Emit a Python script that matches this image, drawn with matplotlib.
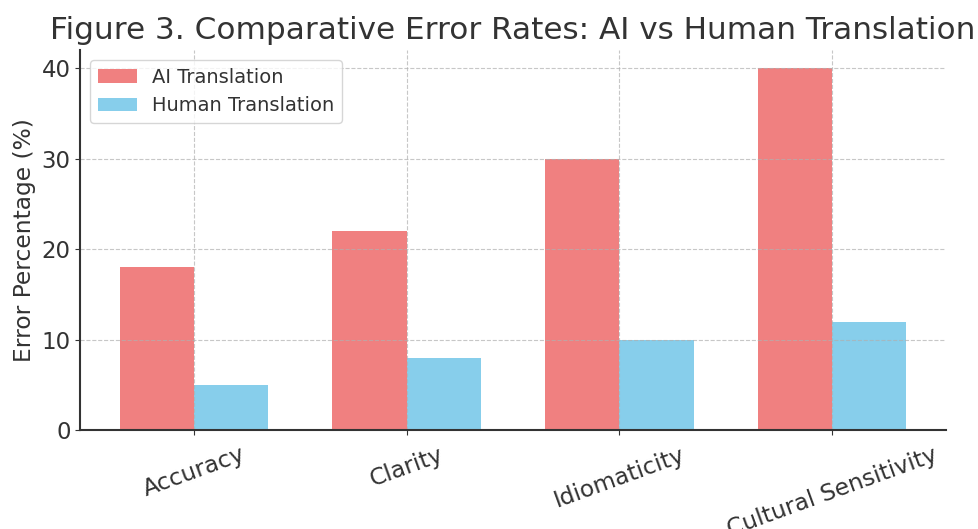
import numpy as np
import matplotlib
matplotlib.use('Agg')
import matplotlib.pyplot as plt

categories = ['Accuracy', 'Clarity', 'Idiomaticity', 'Cultural Sensitivity']
ai_errors = [18, 22, 30, 40]
human_errors = [5, 8, 10, 12]

plt.rcParams['text.color'] = '#333333'
plt.rcParams['axes.labelcolor'] = '#333333'
plt.rcParams['xtick.color'] = '#333333'
plt.rcParams['ytick.color'] = '#333333'

x = np.arange(len(categories))
width = 0.35

fig = plt.figure(figsize=(9.79, 5.29), dpi=100)
ax = fig.add_axes([0.082, 0.187, 0.884, 0.718])

ax.bar(x - width / 2, ai_errors, width, label='AI Translation', color='lightcoral')
ax.bar(x + width / 2, human_errors, width, label='Human Translation', color='skyblue')

ax.set_title('Figure 3. Comparative Error Rates: AI vs Human Translation', fontsize=22.4, pad=8)
ax.set_ylabel('Error Percentage (%)', fontsize=16.8)
ax.set_xticks(x)
ax.set_xticklabels(categories, rotation=20, fontsize=16.8)
ax.tick_params(axis='y', labelsize=16.5)
ax.tick_params(axis='x', pad=6)
ax.set_yticks([0, 10, 20, 30, 40])
ax.grid(True, linestyle='--', alpha=0.7)
for s in ['top', 'right']:
    ax.spines[s].set_visible(False)
for s in ['left', 'bottom']:
    ax.spines[s].set_linewidth(1.5)
    ax.spines[s].set_color('#333333')
ax.legend(fontsize=14, loc='upper left')

fig.savefig('out.png', dpi=100)
